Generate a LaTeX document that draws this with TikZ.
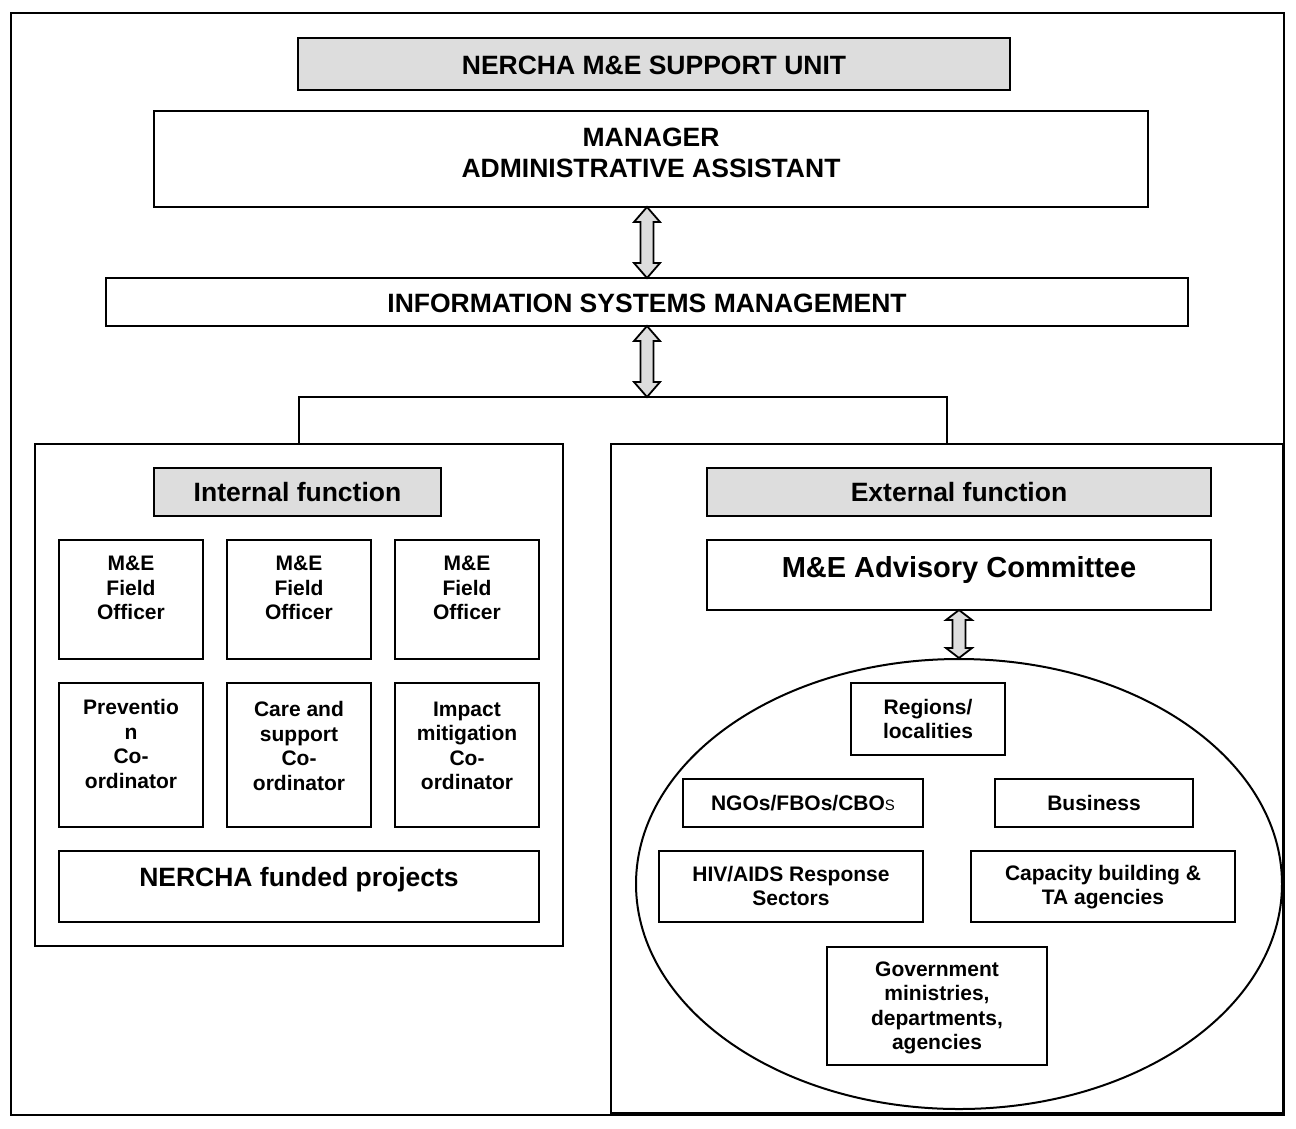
\documentclass[tikz,border=0pt]{standalone}
\usepackage{fontspec}
\setmainfont{Liberation Sans}
\usetikzlibrary{calc,shapes.geometric}
\definecolor{boxgray}{RGB}{221,221,221}
% double-headed block arrow: #1 top point, #2 bottom point, #3 head length
\newcommand{\dblarr}[3]{%
  \draw[arrowsty] let \p1=(#1), \p2=(#2) in
    (\x1,\y1) -- (\x1+13pt,\y1-#3) -- (\x1+6.5pt,\y1-#3) -- (\x1+6.5pt,\y2+#3)
    -- (\x1+13pt,\y2+#3) -- (\x1,\y2) -- (\x1-13pt,\y2+#3) -- (\x1-6.5pt,\y2+#3)
    -- (\x1-6.5pt,\y1-#3) -- (\x1-13pt,\y1-#3) -- cycle;}
\begin{document}
\begin{tikzpicture}[x=1pt,y=-1pt,
  box/.style={draw, line width=2pt, inner sep=0pt, outer sep=0pt},
  graybox/.style={box, fill=boxgray},
  big/.style={font=\fontsize{26.5}{31}\selectfont\bfseries, align=center, inner sep=0pt},
  bigger/.style={font=\fontsize{29}{33}\selectfont\bfseries, align=center, inner sep=0pt},
  small/.style={font=\fontsize{21}{24.5}\selectfont\bfseries, align=center, inner sep=0pt},
  arrowsty/.style={draw, line width=1.8pt, fill=boxgray, line join=miter},
  link/.style={draw, line width=2pt}]
\useasboundingbox (0,0) rectangle (1296,1128);
% outer frame
\draw[line width=2pt] (11,13) rectangle (1284,1115);

% top part
\node[graybox, minimum width=712, minimum height=52] (title) at (654,64) {};
\node[big] (titleT) at (654,65) {NERCHA M\&E SUPPORT UNIT};
\node[box, minimum width=994, minimum height=96] (mgr) at (651,159) {};
\node[big] (mgrT) at (651,152.5) {MANAGER\\ADMINISTRATIVE ASSISTANT};
\node[box, minimum width=1082, minimum height=48] (isms) at (647,302) {};
\node[big] (ismsT) at (647,303) {INFORMATION SYSTEMS MANAGEMENT};
\coordinate (br) at (647,397);

% panels
\node[box, minimum width=528, minimum height=502] (lp) at (299,695) {};
\node[box, minimum width=672, minimum height=669] (rp) at (947,778.5) {};

% connectors
\dblarr{isms.north |- mgr.south}{isms.north}{15pt}
\dblarr{isms.south}{br}{15pt}
\draw[link] (lp.north) -- (lp.north |- br) -- (rp.north |- br) -- (rp.north);

% internal function
\node[graybox, minimum width=287, minimum height=48] (intf) at (297.5,492) {};
\node[big] (intfT) at (297.5,492) {Internal function};
\node[box, minimum width=144, minimum height=119] (fo1) at (131,599.5) {};
\node[box, minimum width=144, minimum height=119] (fo2) at (299,599.5) {};
\node[box, minimum width=144, minimum height=119] (fo3) at (467,599.5) {};
\node[small] (fo1T) at (131,588) {M\&E\\Field\\Officer};
\node[small] (fo2T) at (299,588) {M\&E\\Field\\Officer};
\node[small] (fo3T) at (467,588) {M\&E\\Field\\Officer};
\node[box, minimum width=144, minimum height=144] (co1) at (131,755) {};
\node[box, minimum width=144, minimum height=144] (co2) at (299,755) {};
\node[box, minimum width=144, minimum height=144] (co3) at (467,755) {};
\node[small] (co1T) at (131,744) {Preventio\\n\\Co-\\ordinator};
\node[small] (co2T) at (299,746) {Care and\\support\\Co-\\ordinator};
\node[small] (co3T) at (467,746) {Impact\\mitigation\\Co-\\ordinator};
\node[box, minimum width=480, minimum height=71] (nfp) at (299,886.5) {};
\node[big] (nfpT) at (299,880) {NERCHA funded projects};

% external function
\node[graybox, minimum width=504, minimum height=48] (extf) at (959,492) {};
\node[big] (extfT) at (959,492) {External function};
\node[box, minimum width=504, minimum height=70] (adv) at (959,575) {};
\node[bigger] (advT) at (959,570) {M\&E Advisory Committee};
\node[draw, ellipse, line width=2pt, inner sep=0pt, minimum width=646, minimum height=450] (ell) at (959,884) {};
\dblarr{adv.south}{ell.north}{10pt}

\node[box, minimum width=154, minimum height=72] (reg) at (928,719) {};
\node[small] (regT) at (928,719) {Regions/\\localities};
\node[box, minimum width=240, minimum height=48] (ngo) at (803,803) {};
\node[small] (ngoT) at (803,803) {NGOs/FBOs/CBO{\mdseries\fontsize{15}{15}\selectfont S}};
\node[box, minimum width=198, minimum height=48] (bus) at (1094,803) {};
\node[small] (busT) at (1094,803) {Business};
\node[box, minimum width=264, minimum height=71] (hiv) at (791,886.5) {};
\node[small] (hivT) at (791,886) {HIV/AIDS Response\\Sectors};
\node[box, minimum width=264, minimum height=71] (cap) at (1103,886.5) {};
\node[small] (capT) at (1103,887) {Capacity building \&\\TA agencies};
\node[box, minimum width=220, minimum height=118] (gov) at (937,1006) {};
\node[small] (govT) at (937,1008) {Government\\ministries,\\departments,\\agencies};
\end{tikzpicture}
\end{document}
